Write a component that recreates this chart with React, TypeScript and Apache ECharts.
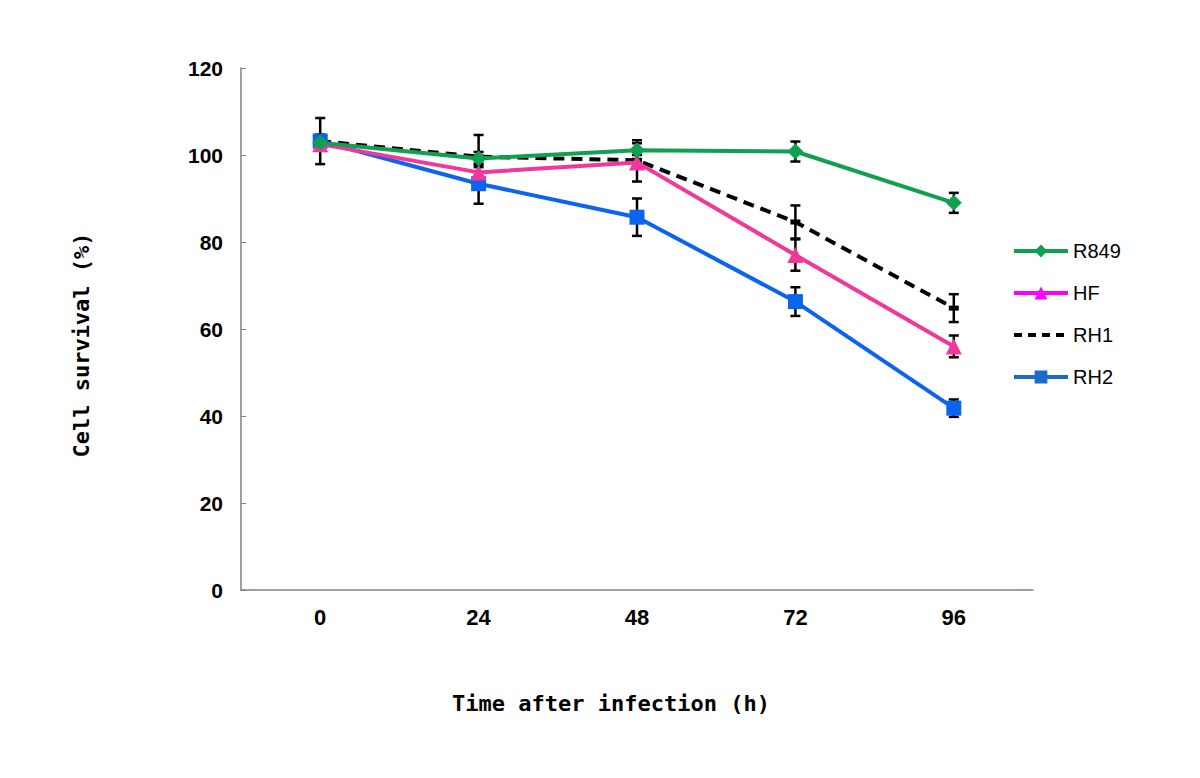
import React, { useEffect, useRef } from "react";
import * as echarts from "echarts";

const categories = ["0", "24", "48", "72", "96"];
const yTicks = [0, 20, 40, 60, 80, 100, 120];

const r849 = [102.8, 99.2, 101.1, 100.8, 89.0];
const r849Err = [1.0, 1.5, 2.3, 2.3, 2.3];
const hf = [102.5, 96.0, 98.3, 77.0, 56.0];
const hfErr = [1.0, 1.2, 4.4, 3.6, 2.5];
const rh1 = [103.2, 99.6, 98.8, 84.6, 64.8];
const rh1Err = [5.3, 5.0, 1.2, 3.8, 3.2];
const rh2 = [103.2, 93.4, 85.7, 66.3, 41.8];
const rh2Err = [1.5, 4.6, 4.3, 3.3, 2.0];

const seriesNames = ["R849", "HF", "RH1", "RH2"];

export default function App() {
  const ref = useRef<HTMLDivElement>(null);
  useEffect(() => {
    if (!ref.current) return;
    const chart = echarts.init(ref.current, null, { renderer: "svg" });

    const errData: number[][] = [];
    const allVals = [r849, hf, rh1, rh2];
    const allErr = [r849Err, hfErr, rh1Err, rh2Err];
    allVals.forEach((vals, s) => {
      vals.forEach((v, i) => {
        errData.push([i, v - allErr[s][i], v + allErr[s][i]]);
      });
    });

    const tickFont = {
      fontFamily: "'Liberation Sans', Arial, sans-serif",
      fontWeight: "bold" as const,
      color: "#000",
    };

    chart.setOption({
      animation: false,
      backgroundColor: "#fff",
      grid: { left: 233, right: 175, top: 60, bottom: 196 },
      legend: {
        orient: "vertical",
        left: 999,
        top: 228,
        itemWidth: 54,
        itemHeight: 16,
        itemGap: 22,
        textStyle: {
          fontFamily: "'Liberation Sans', sans-serif",
          fontSize: 20,
          color: "#000",
        },
        data: [
          { name: "R849", itemStyle: { color: "#11a052" }, lineStyle: { color: "#11a052", width: 4 } },
          { name: "HF", itemStyle: { color: "#ff00ff" }, lineStyle: { color: "#ff00ff", width: 4 } },
          { name: "RH1", itemStyle: { color: "#000", opacity: 0 }, lineStyle: { color: "#000", width: 4, type: [8, 6] } },
          { name: "RH2", itemStyle: { color: "#1a6cc8" }, lineStyle: { color: "#1a6cc8", width: 4 } },
        ],
      },
      xAxis: {
        type: "category",
        data: categories,
        boundaryGap: true,
        axisLine: { lineStyle: { color: "#808080", width: 1.5 } },
        axisTick: { show: false },
        axisLabel: { ...tickFont, fontSize: 22, margin: 16 },
        splitLine: { show: false },
      },
      yAxis: {
        type: "value",
        min: yTicks[0],
        max: yTicks[yTicks.length - 1],
        interval: 20,
        axisLine: { show: true, lineStyle: { color: "#808080", width: 1.5 } },
        axisTick: { show: true, inside: true, length: 5, lineStyle: { color: "#808080" } },
        axisLabel: { ...tickFont, fontSize: 21, margin: 18 },
        splitLine: { show: false },
      },
      graphic: [
        {
          type: "text",
          x: 603,
          y: 695,
          style: {
            text: "Time after infection (h)",
            fontFamily: "'DejaVu Sans Mono', 'Liberation Mono', monospace",
            fontWeight: "bold",
            fontSize: 22,
            fill: "#000",
            align: "center",
            verticalAlign: "middle",
          },
        },
        {
          type: "text",
          x: 73,
          y: 337,
          rotation: Math.PI / 2,
          style: {
            text: "Cell survival (%)",
            fontFamily: "'DejaVu Sans Mono', 'Liberation Mono', monospace",
            fontWeight: "bold",
            fontSize: 22,
            fill: "#000",
            align: "center",
            verticalAlign: "middle",
          },
        },
      ],
      series: [
        {
          type: "custom",
          name: "err",
          z: 1,
          silent: true,
          encode: { x: 0, y: [1, 2] },
          data: errData,
          renderItem: (params: any, api: any) => {
            const x = api.value(0);
            const lo = api.coord([x, api.value(1)]);
            const hi = api.coord([x, api.value(2)]);
            const hw = 5;
            const style = { stroke: "#000", lineWidth: 2.5 };
            return {
              type: "group",
              children: [
                { type: "line", shape: { x1: lo[0], y1: lo[1], x2: hi[0], y2: hi[1] }, style },
                { type: "line", shape: { x1: lo[0] - hw, y1: lo[1], x2: lo[0] + hw, y2: lo[1] }, style },
                { type: "line", shape: { x1: hi[0] - hw, y1: hi[1], x2: hi[0] + hw, y2: hi[1] }, style },
              ],
            };
          },
        },
        {
          name: seriesNames[2],
          type: "line",
          z: 2,
          data: rh1,
          symbol: "rect",
          symbolSize: [10, 5],
          itemStyle: { color: "#000" },
          lineStyle: { color: "#000", width: 4, type: [11, 7] },
        },
        {
          name: seriesNames[3],
          type: "line",
          z: 3,
          data: rh2,
          symbol: "rect",
          symbolSize: 15,
          itemStyle: { color: "#0a64f0" },
          lineStyle: { color: "#0a64f0", width: 4 },
        },
        {
          name: seriesNames[1],
          type: "line",
          z: 4,
          data: hf,
          symbol: "triangle",
          symbolSize: 16,
          itemStyle: { color: "#f0379a" },
          lineStyle: { color: "#f0379a", width: 4 },
        },
        {
          name: seriesNames[0],
          type: "line",
          z: 5,
          data: r849,
          symbol: "diamond",
          symbolSize: 16,
          itemStyle: { color: "#11a052" },
          lineStyle: { color: "#11a052", width: 4 },
        },
      ],
    });
    return () => chart.dispose();
  }, []);
  return <div ref={ref} style={{ width: 1200, height: 778 }} />;
}
